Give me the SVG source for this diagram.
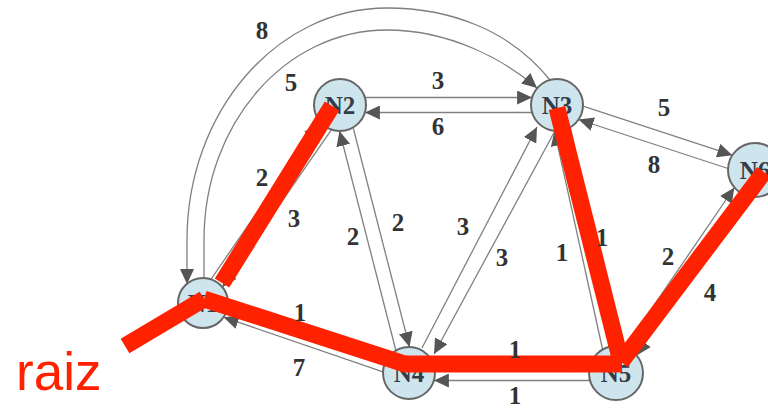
<svg xmlns="http://www.w3.org/2000/svg" width="768" height="408" viewBox="0 0 768 408">
<style>
.e{fill:none;stroke:#808080;stroke-width:1.3;marker-end:url(#ah)}
.n circle{fill:#cfe5ee;stroke:#666;stroke-width:2}
.n text{font-family:"Liberation Serif",serif;font-weight:bold;font-size:25px;fill:#333c48;text-anchor:middle}
.w{font-family:"Liberation Serif",serif;font-weight:bold;font-size:25px;fill:#333;text-anchor:middle}
.r{stroke:#ff2200;stroke-width:17;stroke-linecap:butt;fill:none}
</style>
<defs>
<marker id="ah" markerUnits="userSpaceOnUse" markerWidth="15" markerHeight="14" viewBox="0 0 15 14" refX="15" refY="7" orient="auto"><path d="M0,0 L15,7 L0,14 z" fill="#555"/></marker>
</defs>
<g id="connectors">
<path class="e" d="M210.9 279.3 L318.5 123.5"/>
<path class="e" d="M331.5 129.6 L222.4 287.3"/>
<path class="e" d="M364.9 97.5 L532.1 97.5"/>
<path class="e" d="M532.1 112.5 L364.9 112.5"/>
<path class="e" d="M353.1 127.5 L409.5 347"/>
<path class="e" d="M395.9 350.5 L339.5 131"/>
<path class="e" d="M422 348 L537 127"/>
<path class="e" d="M556 129 L434 354"/>
<path class="e" d="M570.2 127.4 L618.2 346"/>
<path class="e" d="M602.6 349.5 L554.5 130.8"/>
<path class="e" d="M583 106.2 L732.4 155.2"/>
<path class="e" d="M728 168.5 L578.6 119.5"/>
<path class="e" d="M625.1 347.6 L734.4 187.5"/>
<path class="e" d="M745.9 195.4 L636.6 355.5"/>
<path class="e" d="M228 303.9 L387.4 358.5"/>
<path class="e" d="M383 371.8 L223.6 317.2"/>
<path class="e" d="M433.9 365.5 L590.1 365.5"/>
<path class="e" d="M590.1 380.5 L433.9 380.5"/>
<path class="e" d="M550 80 C510 30 450 8 387 8 C276.6 8 187 112 187 240 L187 284"/>
<path class="e" d="M204 278 L204 240 C204 124 285 30 387 30 C450 30 505 60 537 88"/>
</g>
<g id="N1" class="n"><circle cx="203" cy="303" r="25"/><text x="203" y="312">N1</text></g>
<g id="N2" class="n"><circle cx="340" cy="105" r="26"/><text x="340" y="114">N2</text></g>
<g id="N3" class="n"><circle cx="557" cy="105" r="26"/><text x="557" y="114">N3</text></g>
<g id="N4" class="n"><circle cx="409" cy="373" r="26"/><text x="409" y="382">N4</text></g>
<g id="N5" class="n"><circle cx="616" cy="373" r="27"/><text x="616" y="382">N5</text></g>
<g id="N6" class="n"><circle cx="755" cy="170" r="27"/><text x="755" y="179">N6</text></g>
<g id="tree">
<line class="r" x1="125" y1="346" x2="204" y2="299"/>
<line class="r" x1="204" y1="299" x2="408" y2="365"/>
<line class="r" x1="406" y1="364" x2="622" y2="364"/>
<line class="r" x1="332" y1="106" x2="222" y2="283"/>
<line class="r" x1="557" y1="108" x2="621" y2="362"/>
<line class="r" x1="621" y1="362" x2="764" y2="172"/>
</g>
<g id="weights">
<text class="w" x="262" y="39">8</text>
<text class="w" x="291" y="91">5</text>
<text class="w" x="438" y="89">3</text>
<text class="w" x="438" y="135">6</text>
<text class="w" x="664" y="116">5</text>
<text class="w" x="654" y="173">8</text>
<text class="w" x="262" y="186">2</text>
<text class="w" x="294" y="227">3</text>
<text class="w" x="353" y="245">2</text>
<text class="w" x="398" y="231">2</text>
<text class="w" x="463" y="235">3</text>
<text class="w" x="502" y="266">3</text>
<text class="w" x="562" y="261">1</text>
<text class="w" x="602" y="246">1</text>
<text class="w" x="668" y="265">2</text>
<text class="w" x="710" y="301">4</text>
<text class="w" x="300" y="321">1</text>
<text class="w" x="299" y="376">7</text>
<text class="w" x="515" y="358">1</text>
<text class="w" x="515" y="404">1</text>
</g>
<text x="16" y="390" font-family="Liberation Sans, Arial, sans-serif" font-size="53" fill="#ff2200">raiz</text>
</svg>
